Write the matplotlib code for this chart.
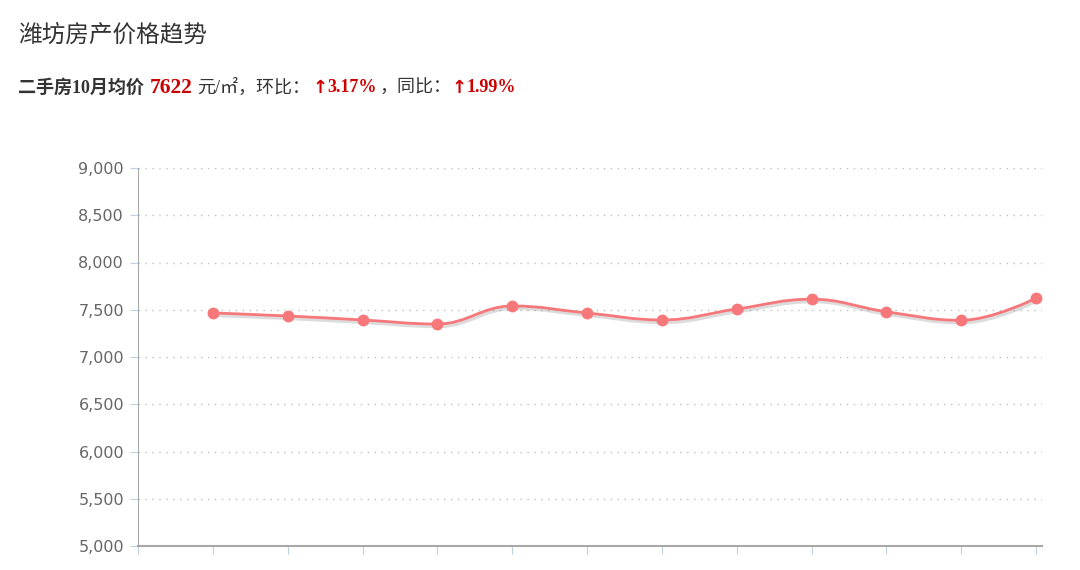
import matplotlib
matplotlib.use("Agg")
import matplotlib.pyplot as plt
import matplotlib.patheffects as pe
from matplotlib.path import Path
from matplotlib.patches import PathPatch
from matplotlib.ticker import FuncFormatter
import numpy as np

plt.rcParams['font.family'] = ['Noto Sans CJK SC', 'DejaVu Sans']

# ---- data ----
months = ["11月", "12月", "1月", "2月", "3月", "4月", "5月", "6月", "7月", "8月", "9月", "10月"]
prices = [7466, 7434, 7392, 7349, 7540, 7466, 7392, 7508, 7612, 7479, 7388, 7622]
title = "潍坊房产价格趋势"
y_ticks = [5000, 5500, 6000, 6500, 7000, 7500, 8000, 8500, 9000]

LINE = '#f7787a'

fig = plt.figure(figsize=(10.8, 5.7), dpi=100)
ax = fig.add_axes([138/1080, 1-546/570, 904/1080, 378/570])

xs = np.arange(1, len(prices) + 1, dtype=float)
ys = np.array(prices, dtype=float)

# Highcharts-style spline
def spline_path(x, y, smoothing=1.5):
    n = len(x)
    verts = [(x[0], y[0])]
    codes = [Path.MOVETO]
    rc = [None]*n
    lc = [None]*n
    for i in range(n):
        if 0 < i < n-1:
            d = smoothing + 1
            lx = (smoothing*x[i] + x[i-1]) / d
            ly = (smoothing*y[i] + y[i-1]) / d
            rx = (smoothing*x[i] + x[i+1]) / d
            ry = (smoothing*y[i] + y[i+1]) / d
            corr = ((ry - ly) * (rx - x[i])) / (rx - lx) + y[i] - ry
            ly += corr
            ry += corr
            if ly > y[i-1] and ly > y[i]:
                ly = max(y[i-1], y[i]); ry = 2*y[i] - ly
            elif ly < y[i-1] and ly < y[i]:
                ly = min(y[i-1], y[i]); ry = 2*y[i] - ly
            if ry > y[i+1] and ry > y[i]:
                ry = max(y[i+1], y[i]); ly = 2*y[i] - ry
            elif ry < y[i+1] and ry < y[i]:
                ry = min(y[i+1], y[i]); ly = 2*y[i] - ry
            lc[i] = (lx, ly); rc[i] = (rx, ry)
        else:
            lc[i] = (x[i], y[i]); rc[i] = (x[i], y[i])
    for i in range(1, n):
        verts += [rc[i-1], lc[i], (x[i], y[i])]
        codes += [Path.CURVE4]*3
    return Path(verts, codes)

path = spline_path(xs, ys)
patch = PathPatch(path, facecolor='none', edgecolor=LINE, lw=2, zorder=3,
                  path_effects=[pe.SimpleLineShadow(offset=(1, -1.5), shadow_color='#777777', alpha=0.25, linewidth=3),
                                pe.Normal()])
ax.add_patch(patch)
ax.plot(xs, ys, 'o', color=LINE, ms=7.5, mec=LINE, zorder=4)

ax.set_xlim(0, len(prices) + 0.08)
ax.set_ylim(y_ticks[0], y_ticks[-1])
ax.set_yticks(y_ticks)
ax.set_xticks(np.arange(0, len(prices) + 1))
ax.set_xticklabels([])
ax.yaxis.set_major_formatter(FuncFormatter(lambda v, p: f"{int(v):,}"))

for v in y_ticks[1:]:
    ax.axhline(v, color='#c0c0c0', lw=1, ls=(0, (1, 4)), zorder=1)

for s in ['top', 'right']:
    ax.spines[s].set_visible(False)
ax.spines['left'].set_color('#a8a8a8')
ax.spines['bottom'].set_color('#a8a8a8')
ax.spines['bottom'].set_linewidth(1.5)
ax.tick_params(axis='y', length=6, color='#c0d0e0', labelcolor='#666666', labelsize=11.5, pad=4)
ax.tick_params(axis='x', length=6, color='#c0d0e0', direction='out')
for lab in ax.get_yticklabels():
    lab.set_family(['DejaVu Sans'])

# ---- titles ----
fig.text(18/1080, 1-35/570, title, fontsize=17, color='#333333', va='center', ha='left')

renderer = fig.canvas.get_renderer()
fam = ['Liberation Serif', 'Noto Sans CJK SC']
arrow_fam = ['DejaVu Sans']
# (text, colour, weight, size, family, gap after in px)
segments = [
    ("二手房10月均价", '#333333', 'bold', 13, fam, 6),
    ("7622", '#cc0000', 'bold', 15.5, fam, 5),
    ("元/㎡，环比：", '#333333', 'normal', 13, fam, 2),
    ("↑", '#cc0000', 'bold', 13, arrow_fam, 0),
    ("3.17%", '#cc0000', 'bold', 13, fam, 2),
    ("，同比：", '#333333', 'normal', 13, fam, 0),
    ("↑", '#cc0000', 'bold', 13, arrow_fam, 0),
    ("1.99%", '#cc0000', 'bold', 13, fam, 0),
]
x = 18
for txt, col, wt, fs, f, gap in segments:
    t = fig.text(x/1080, 1-88/570, txt, fontsize=fs, color=col, fontweight=wt,
                 va='center', ha='left', family=f)
    bb = t.get_window_extent(renderer)
    x += bb.width + gap

fig.savefig("out.png", dpi=100)
